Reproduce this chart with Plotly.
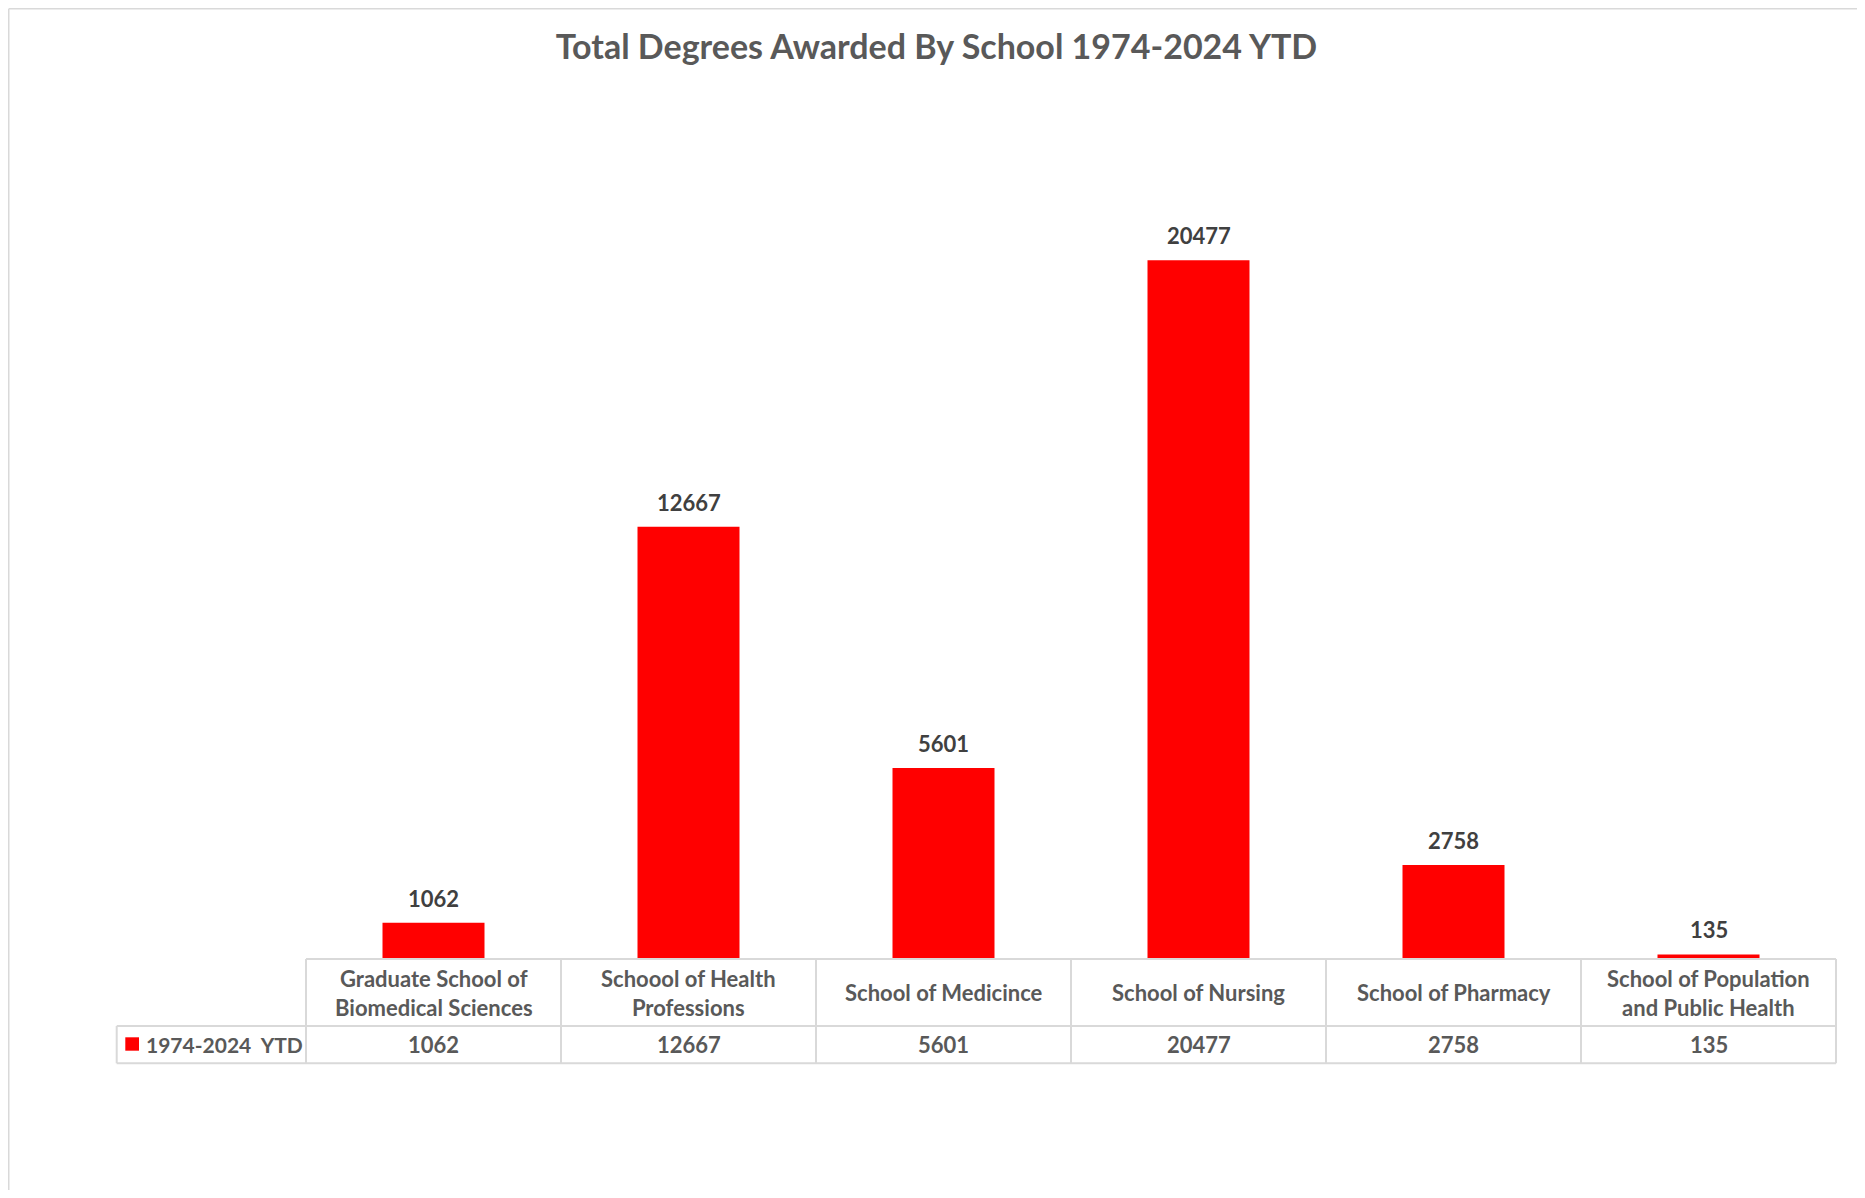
import plotly.graph_objects as go

TITLE = "Total Degrees Awarded By School 1974-2024 YTD"
SERIES_NAME = "1974-2024\u00a0 YTD"

schools = [
    "Graduate School of Biomedical Sciences",
    "Schoool of Health Professions",
    "School of Medicince",
    "School of Nursing",
    "School of Pharmacy",
    "School of Population and Public Health",
]
header_labels = [
    "Graduate School of<br>Biomedical Sciences",
    "Schoool of Health<br>Professions",
    "School of Medicince",
    "School of Nursing",
    "School of Pharmacy",
    "School of Population<br>and Public Health",
]
degrees = [1062, 12667, 5601, 20477, 2758, 135]

RED = "#FF0000"
GRID = "#D9D9D9"
TEXT = "#595959"
LABEL = "#404040"
FONT = "Lato"

# page has an 8px body margin, so the figure is a bit smaller than the window
OFF = 8
W, H = 1857, 1182
L, R, T, B = 298, 29, 98, 231
PW, PH = W - L - R, H - T - B


def px_x(px):
    # page pixel -> paper x
    return (px - OFF - L) / PW


def px_y(py):
    # page pixel -> paper y
    return (H - B - (py - OFF)) / PH


fig = go.Figure()
fig.add_trace(
    go.Bar(
        x=schools,
        y=degrees,
        marker=dict(color=RED, line_width=0),
        width=0.4,
        name=SERIES_NAME,
        showlegend=False,
    )
)

# data table below the bars
row_top, row_mid, row_bot = 0, px_y(1026), px_y(1063.3)
label_left = px_x(116.7)
n = len(schools)

shapes = []
line = dict(color=GRID, width=2)
shapes.append(dict(type="line", xref="paper", yref="paper", x0=0, x1=1, y0=row_top, y1=row_top, line=line))
for yy in (row_mid, row_bot):
    shapes.append(dict(type="line", xref="paper", yref="paper", x0=label_left, x1=1, y0=yy, y1=yy, line=line))
for i in range(n + 1):
    xx = i / n
    shapes.append(dict(type="line", xref="paper", yref="paper", x0=xx, x1=xx, y0=row_top, y1=row_bot, line=line))
shapes.append(dict(type="line", xref="paper", yref="paper", x0=label_left, x1=label_left, y0=row_mid, y1=row_bot, line=line))
# legend key
shapes.append(dict(type="rect", xref="paper", yref="paper", x0=px_x(125.3), x1=px_x(139),
                   y0=px_y(1050.7), y1=px_y(1037.3), fillcolor=RED, line_width=0))
# chart border
bl, bt, br = px_x(OFF + 0.75), px_y(OFF + 0.75), px_x(1862)
bbot = px_y(1300)
bline = dict(color=GRID, width=1.5)
shapes.append(dict(type="line", xref="paper", yref="paper", x0=bl, x1=bl, y0=bt, y1=bbot, line=bline))
shapes.append(dict(type="line", xref="paper", yref="paper", x0=bl, x1=br, y0=bt, y1=bt, line=bline))
shapes.append(dict(type="line", xref="paper", yref="paper", x0=br, x1=br, y0=bt, y1=bbot, line=bline))

annotations = []
head_y = (row_top + row_mid) / 2
val_y = (row_mid + row_bot) / 2
cell_font = dict(size=22, color=TEXT, family=FONT)
for name, head, val in zip(schools, header_labels, degrees):
    annotations.append(dict(x=name, y=head_y, xref="x", yref="paper", text=f"<b>{head}</b>",
                            xanchor="center", yanchor="middle", showarrow=False, font=cell_font))
    annotations.append(dict(x=name, y=val_y, xref="x", yref="paper", text=f"<b>{val}</b>",
                            xanchor="center", yanchor="middle", showarrow=False, font=cell_font))
    annotations.append(dict(x=name, y=val, xref="x", yref="y", text=f"<b>{val}</b>",
                            showarrow=False, xanchor="center", yanchor="bottom", yshift=9,
                            font=dict(size=22, color=LABEL, family=FONT)))
annotations.append(dict(x=px_x(144.3), y=val_y, xref="paper", yref="paper", xanchor="left",
                        yanchor="middle", text=f"<b>{SERIES_NAME}</b>", showarrow=False,
                        font=dict(size=21, color=TEXT, family=FONT)))

fig.update_layout(
    width=W,
    height=H,
    margin=dict(l=L, r=R, t=T, b=B, pad=0),
    paper_bgcolor="white",
    plot_bgcolor="white",
    title=dict(text=f"<b>{TITLE}</b>", x=0.5, xref="container", xanchor="center",
               y=1 - (47.5 - OFF) / H, yref="container", yanchor="middle",
               font=dict(size=34, color=TEXT, family=FONT)),
    xaxis=dict(showticklabels=False, showgrid=False, zeroline=False, showline=False, ticks="",
               range=[-0.5, n - 0.5]),
    yaxis=dict(range=[0, 25000], visible=False),
    shapes=shapes,
    annotations=annotations,
    bargap=0.6,
)

fig.write_html("out.html")
